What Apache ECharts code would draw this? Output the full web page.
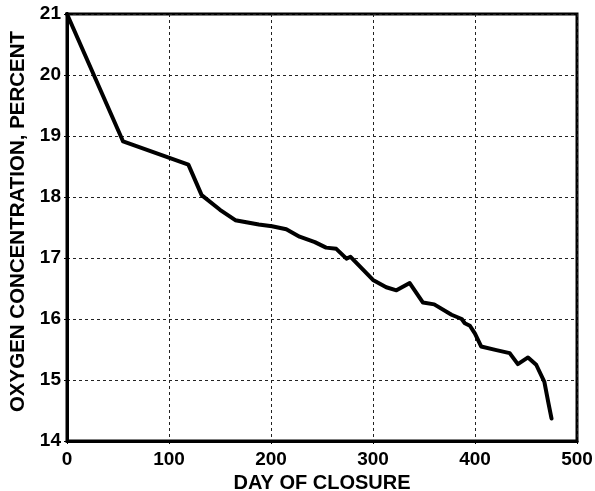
<!DOCTYPE html>
<html>
<head>
<meta charset="utf-8">
<script src="https://cdn.jsdelivr.net/npm/echarts@6/dist/echarts.min.js"></script>
<style>
  html, body { margin: 0; padding: 0; background: #fff; }
  #oxygenChart { width: 595px; height: 491px; }
</style>
</head>
<body>
<div id="oxygenChart"></div>
<script>
  // day of closure vs oxygen concentration (%)
  const days = [0, 55, 119, 132, 150, 165, 188, 201, 215, 228, 243, 254, 264, 274, 278, 300, 313, 323, 336, 349, 360, 377, 387, 390, 395, 400, 406, 421, 434, 442, 452, 460, 468, 472, 475];
  const oxygen = [21.0, 18.91, 18.53, 18.03, 17.79, 17.62, 17.55, 17.52, 17.47, 17.35, 17.26, 17.17, 17.15, 16.99, 17.02, 16.64, 16.52, 16.47, 16.59, 16.27, 16.24, 16.07, 16.0, 15.93, 15.89, 15.76, 15.55, 15.49, 15.44, 15.26, 15.37, 15.25, 14.97, 14.62, 14.37];

  const xName = 'DAY OF CLOSURE';
  const yName = 'OXYGEN CONCENTRATION, PERCENT';

  const font = 'Liberation Sans, Arial, sans-serif';

  const myChart = echarts.init(document.getElementById('oxygenChart'), null, { renderer: 'canvas' });

  const option = {
    animation: false,
    backgroundColor: '#fff',
    grid: {
      left: 67,
      right: 18,
      top: 14,
      bottom: 50,
      outerBoundsMode: 'none',
      containLabel: false,
      show: true,
      borderColor: '#000',
      borderWidth: 3,
      backgroundColor: 'transparent'
    },
    xAxis: {
      type: 'value',
      min: 0,
      max: 500,
      interval: 100,
      name: xName,
      nameLocation: 'middle',
      nameGap: 29,
      nameTextStyle: { fontFamily: font, fontWeight: 'bold', fontSize: 20, color: '#000' },
      axisLine: { show: true, lineStyle: { color: '#000', width: 3 } },
      axisTick: { show: true, length: 3, lineStyle: { color: '#000', width: 1 } },
      axisLabel: { fontFamily: font, fontWeight: 'bold', fontSize: 19, color: '#000', margin: 9 },
      splitLine: { show: true, lineStyle: { color: '#222', width: 1, type: [3, 3] } }
    },
    yAxis: {
      type: 'value',
      min: 14,
      max: 21,
      interval: 1,
      name: yName,
      nameLocation: 'middle',
      nameGap: 37,
      nameTextStyle: { fontFamily: font, fontWeight: 'bold', fontSize: 20.5, color: '#000', padding: [0, 0, 0, 12] },
      axisLine: { show: true, lineStyle: { color: '#000', width: 3 } },
      axisTick: { show: true, length: 3, lineStyle: { color: '#000', width: 1 } },
      axisLabel: { fontFamily: font, fontWeight: 'bold', fontSize: 19, color: '#000', margin: 6 },
      splitLine: { show: true, lineStyle: { color: '#222', width: 1, type: [3, 3] } }
    },
    series: [{
      type: 'line',
      data: days.map((d, i) => [d, oxygen[i]]),
      symbol: 'none',
      lineStyle: { color: '#000', width: 4, join: 'round', cap: 'round' },
      z: 5
    }]
  };

  myChart.setOption(option);
</script>
</body>
</html>
